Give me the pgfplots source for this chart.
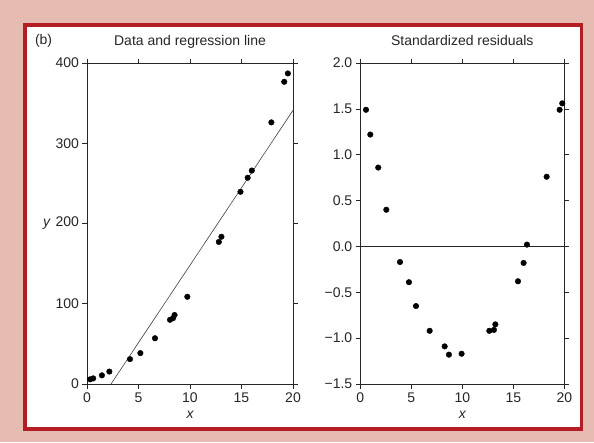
\documentclass[border=0pt]{standalone}
\usepackage{pgfplots}
\pgfplotsset{compat=1.18}
\usepackage{fontspec}
\setmainfont{Liberation Sans}
\definecolor{bgpink}{RGB}{230,188,178}
\definecolor{framered}{RGB}{178,30,36}
\pgfplotsset{
  myaxis/.style={
    scale only axis,
    anchor=south west,
    axis line style={black!85, line width=0.6pt},
    every tick/.style={black!85, line width=0.6pt},
    tick align=outside,
    major tick length=4.5pt,
    tick label style={font=\fontsize{14}{14}\selectfont, text=black!85},
    xticklabel style={yshift=-1pt},
    /pgf/number format/assume math mode=true,
    title style={font=\fontsize{14}{14}\selectfont, text=black!85, anchor=base, yshift=12pt},
    xlabel style={font=\fontsize{14}{14}\selectfont\itshape, text=black!85, yshift=-1pt},
    xmin=0, xmax=20,
    xtick={0,5,10,15,20},
    clip=false,
  }
}
\begin{document}
\begin{tikzpicture}
\useasboundingbox (0,0) rectangle (594pt,442pt);
\fill[bgpink] (0,0) rectangle (594pt,442pt);
\draw[framered, line width=3.8pt, fill=white] (25pt,13pt) rectangle (581.5pt,417pt);
\node[anchor=base west, font=\fontsize{14}{14}\selectfont, text=black!85] at (31.5pt,397pt) {(b)};

\begin{axis}[myaxis,
  at={(87pt,58pt)}, width=206pt, height=321pt,
  ymin=0, ymax=400,
  ytick={0,100,200,300,400},
  yticklabels={0,100,{\textit{y}\,\,200},300,400},
  title={Data and regression line},
  xlabel={x},
]
\addplot[black!75, line width=0.6pt] coordinates {(2.33,0) (20,341)};
\addplot[only marks, mark=*, mark size=2.8pt, black] coordinates {
(0.3,5.8) (0.6,7) (1.45,10.8) (2.17,15.5) (4.17,31) (5.18,38.5) (6.6,57)
(8.06,80) (8.35,82) (8.5,86) (9.74,108.7) (12.8,177) (13.05,183.5)
(14.9,239.5) (15.6,257) (16.0,266) (17.9,326) (19.15,376.6) (19.5,387)
};
\end{axis}

\begin{axis}[myaxis,
  at={(360.3pt,58pt)}, width=204pt, height=321pt,
  ymin=-1.5, ymax=2.0,
  ytick={-1.5,-1,-0.5,0,0.5,1,1.5,2},
  yticklabels={−1.5,−1.0,−0.5,0.0,0.5,1.0,1.5,2.0},
  title={Standardized residuals},
  xlabel={x},
]
\addplot[black!85, line width=0.6pt] coordinates {(0,0) (20,0)};
\addplot[only marks, mark=*, mark size=2.8pt, black] coordinates {
(0.56,1.49) (0.98,1.22) (1.76,0.86) (2.55,0.40) (3.89,-0.17) (4.77,-0.39)
(5.46,-0.65) (6.8,-0.92) (8.27,-1.09) (8.69,-1.18) (9.93,-1.17)
(12.65,-0.92) (13.1,-0.91) (13.24,-0.85) (15.46,-0.38) (16.01,-0.18)
(16.34,0.02) (18.27,0.76) (19.54,1.49) (19.8,1.56)
};
\end{axis}
\end{tikzpicture}
\end{document}
